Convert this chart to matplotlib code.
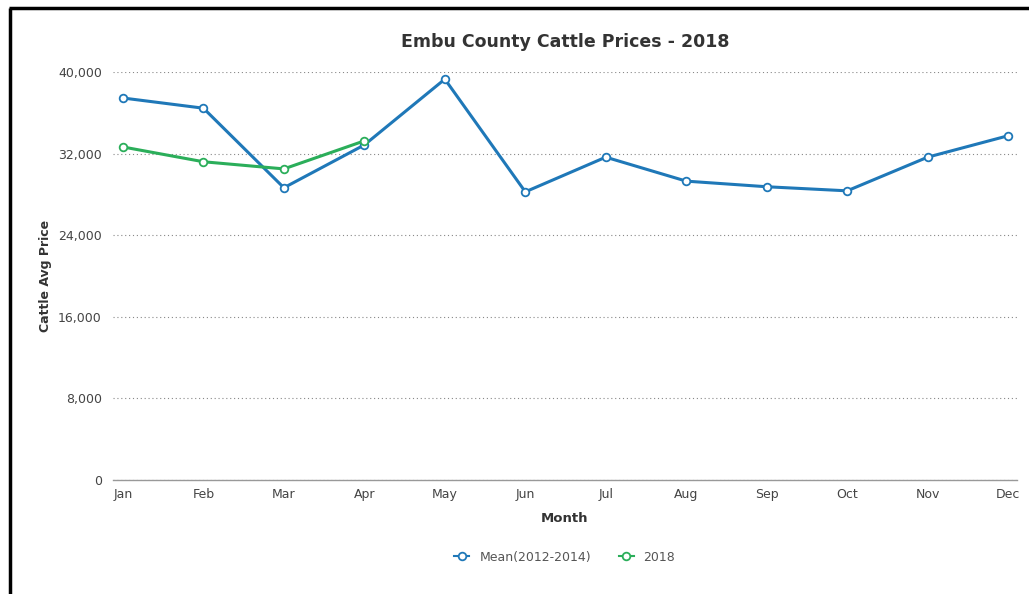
import matplotlib.pyplot as plt
from matplotlib.lines import Line2D

# Chart data.
months = ['Jan', 'Feb', 'Mar', 'Apr', 'May', 'Jun', 'Jul', 'Aug', 'Sep', 'Oct', 'Nov', 'Dec']
mean_prices = [37450, 36450, 28650, 32850, 39300, 28250, 31650, 29300, 28750, 28350, 31650, 33750]
prices_2018 = [32650, 31200, 30500, 33250]
yticks = [0, 8000, 16000, 24000, 32000, 40000]

blue = '#1f78b8'
green = '#2bae5a'

fig = plt.figure(figsize=(10.29, 5.94), dpi=100)
ax = fig.add_axes([0.1098, 0.1919, 0.8785, 0.6869])

x_mean = list(range(len(mean_prices)))
x_2018 = list(range(len(prices_2018)))
ax.plot(x_mean, mean_prices, color=blue, linewidth=2.2, marker='o', markersize=5.5,
        markerfacecolor='white', markeredgecolor=blue, markeredgewidth=1.3, zorder=3)
ax.plot(x_2018, prices_2018, color=green, linewidth=2.2, marker='o', markersize=5.5,
        markerfacecolor='white', markeredgecolor=green, markeredgewidth=1.3, zorder=4)

# Axes formatting.
ax.set_xlim(-0.124, 11.11)
ax.set_ylim(0, 40000)
ax.set_xticks(x_mean)
ax.set_xticklabels(months)
ax.set_yticks(yticks)
ax.set_yticklabels([f'{v:,}' for v in yticks])
ax.tick_params(axis='both', length=0, labelsize=9, colors='#444444')
ax.tick_params(axis='x', pad=6)
ax.tick_params(axis='y', pad=8)
for side in ['top', 'right', 'left']:
    ax.spines[side].set_visible(False)
ax.spines['bottom'].set_color('#999999')
ax.spines['bottom'].set_linewidth(1.0)
ax.grid(axis='y', linestyle=(0, (1, 2.5)), color='#888888', linewidth=0.8)
ax.set_axisbelow(True)

ax.set_title('Embu County Cattle Prices - 2018', fontsize=12.5, fontweight='bold',
             color='#333333', pad=18)
ax.set_ylabel('Cattle Avg Price', fontsize=9, fontweight='bold', color='#333333', labelpad=4)
ax.set_xlabel('Month', fontsize=9.5, fontweight='bold', color='#333333', labelpad=8)

# Legend below the chart.
handles = [Line2D([], [], color=blue, marker='o', markersize=5.5, markerfacecolor='white',
                  markeredgewidth=1.3, linewidth=1.5),
           Line2D([], [], color=green, marker='o', markersize=5.5, markerfacecolor='white',
                  markeredgewidth=1.3, linewidth=1.5)]
fig.legend(handles, ['Mean(2012-2014)', '2018'], loc='center', bbox_to_anchor=(0.549, 0.062),
           ncol=2, frameon=False, fontsize=9, handlelength=1.2, columnspacing=2.2,
           labelcolor='#555555')

# Black frame on the left and top edges.
fig.add_artist(Line2D([0.0098, 0.0098], [0, 0.986], color='black', linewidth=2.5,
                      solid_capstyle='butt', transform=fig.transFigure))
fig.add_artist(Line2D([0.0086, 1.0], [0.986, 0.986], color='black', linewidth=2.5,
                      solid_capstyle='butt', transform=fig.transFigure))

fig.savefig('out.png', dpi=100)
